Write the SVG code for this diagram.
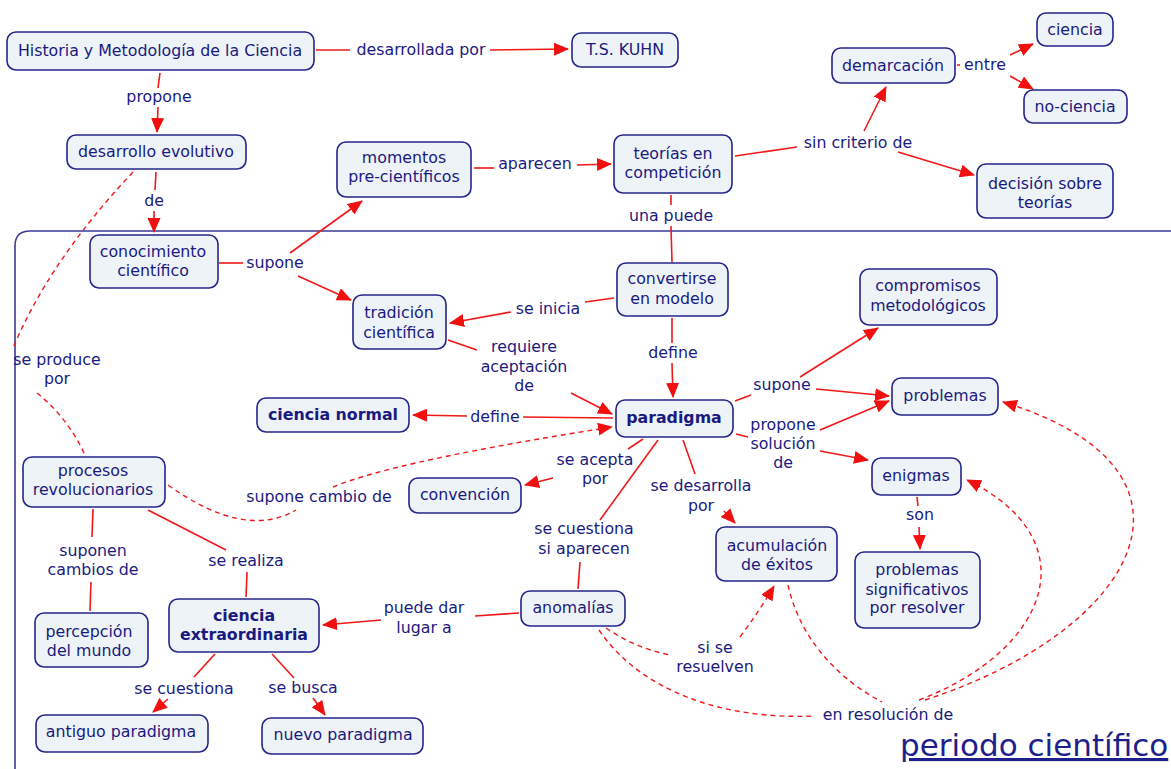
<svg xmlns="http://www.w3.org/2000/svg" width="1171" height="769" viewBox="0 0 1171 769">
<style>
text{font-family:"DejaVu Sans",Verdana,sans-serif;font-size:15.8px;fill:#1a1a80;text-anchor:middle}
.b{font-weight:bold}
.n rect{fill:#edf3f7;stroke:#25258a;stroke-width:1.6}
.c path{fill:none;stroke:#f01818;stroke-width:1.6}
.c path.d{stroke-dasharray:5,4;stroke-width:1.4}
.t{font-size:31px;text-anchor:start;text-decoration:underline;fill:#1f1f8c}
</style>
<defs>
<marker id="a" markerUnits="userSpaceOnUse" markerWidth="15" markerHeight="13" refX="14" refY="6.5" orient="auto"><path d="M0,0L15,6.5L0,13z" fill="#f01010"/></marker>
</defs>
<path d="M15,769V246Q15,231 30,231H1171" fill="none" stroke="#3a3a96" stroke-width="1.6"/>
<g class="c" id="connectors">
<path d="M316,50L350,50"/>
<path d="M490,50L568,49" marker-end="url(#a)"/>
<path d="M160,73L158,88"/>
<path d="M158,107L157,132" marker-end="url(#a)"/>
<path d="M156,172L155,190"/>
<path d="M154,211L154,232" marker-end="url(#a)"/>
<path d="M474,168L494,168"/>
<path d="M577,165L611,164" marker-end="url(#a)"/>
<path d="M735,156L797,147"/>
<path d="M864,131L886,87" marker-end="url(#a)"/>
<path d="M898,152L974,175" marker-end="url(#a)"/>
<path d="M957,65L960,65"/>
<path d="M1010,55L1033,44" marker-end="url(#a)"/>
<path d="M1010,76L1033,89" marker-end="url(#a)"/>
<path d="M671,195L671,205"/>
<path d="M671,226L672,262"/>
<path d="M219,263L243,263"/>
<path d="M290,253L362,201" marker-end="url(#a)"/>
<path d="M298,276L351,300" marker-end="url(#a)"/>
<path d="M614,298L585,302"/>
<path d="M511,312L450,323" marker-end="url(#a)"/>
<path d="M672,318L672,343"/>
<path d="M672,363L673,397" marker-end="url(#a)"/>
<path d="M448,340L477,350"/>
<path d="M571,393L612,414" marker-end="url(#a)"/>
<path d="M613,418L523,417"/>
<path d="M467,416L413,415" marker-end="url(#a)"/>
<path d="M735,401L751,395"/>
<path d="M800,377L878,328" marker-end="url(#a)"/>
<path d="M816,389L889,396" marker-end="url(#a)"/>
<path d="M736,434L748,437"/>
<path d="M820,430L889,401" marker-end="url(#a)"/>
<path d="M820,451L868,460" marker-end="url(#a)"/>
<path d="M643,439L628,449"/>
<path d="M553,478L525,485" marker-end="url(#a)"/>
<path d="M658,440L600,520"/>
<path d="M580,562L578,589"/>
<path d="M683,440L695,474"/>
<path d="M724,511L735,523" marker-end="url(#a)"/>
<path d="M917,497L918,506"/>
<path d="M919,527L920,549" marker-end="url(#a)"/>
<path d="M93,509L92,537"/>
<path d="M91,582L90,611"/>
<path d="M148,510L226,550"/>
<path d="M247,572L246,597"/>
<path d="M519,613L475,616"/>
<path d="M381,620L323,625" marker-end="url(#a)"/>
<path d="M215,654L194,677"/>
<path d="M168,699L153,712" marker-end="url(#a)"/>
<path d="M272,654L294,678"/>
<path d="M313,698L325,715" marker-end="url(#a)"/>
<path class="d" d="M133,172Q50,260 13,348"/>
<path class="d" d="M37,393Q68,418 85,455"/>
<path class="d" d="M168,485Q245,540 296,510"/>
<path class="d" d="M333,487Q395,461 612,427" marker-end="url(#a)"/>
<path class="d" d="M606,628Q635,648 670,655"/>
<path class="d" d="M740,637Q760,610 774,586" marker-end="url(#a)"/>
<path class="d" d="M599,630C640,690 720,720 815,716"/>
<path class="d" d="M788,585C800,640 840,680 882,702"/>
<path class="d" d="M919,700C1050,650 1090,540 967,480" marker-end="url(#a)"/>
<path class="d" d="M925,700C1140,630 1225,470 1003,402" marker-end="url(#a)"/>
</g>
<g id="labels">
<text x="421" y="55">desarrollada por</text>
<text x="159" y="102">propone</text>
<text x="154" y="206">de</text>
<text x="535" y="169">aparecen</text>
<text x="858" y="148">sin criterio de</text>
<text x="985" y="70">entre</text>
<text x="671" y="221">una puede</text>
<text x="275" y="268">supone</text>
<text x="548" y="314">se inicia</text>
<text x="524" y="352">requiere</text>
<text x="524" y="372">aceptación</text>
<text x="524" y="391">de</text>
<text x="673" y="358">define</text>
<text x="495" y="422">define</text>
<text x="782" y="390">supone</text>
<text x="783" y="430">propone</text>
<text x="783" y="449">solución</text>
<text x="783" y="468">de</text>
<text x="595" y="465">se acepta</text>
<text x="595" y="484">por</text>
<text x="701" y="491">se desarrolla</text>
<text x="701" y="511">por</text>
<text x="584" y="534">se cuestiona</text>
<text x="584" y="554">si aparecen</text>
<text x="920" y="520">son</text>
<text x="319" y="502">supone cambio de</text>
<text x="57" y="365">se produce</text>
<text x="57" y="384">por</text>
<text x="93" y="556">suponen</text>
<text x="93" y="575">cambios de</text>
<text x="246" y="566">se realiza</text>
<text x="424" y="613">puede dar</text>
<text x="424" y="633">lugar a</text>
<text x="715" y="653">si se</text>
<text x="715" y="672">resuelven</text>
<text x="888" y="720">en resolución de</text>
<text x="184" y="694">se cuestiona</text>
<text x="303" y="693">se busca</text>
<text class="t" x="900" y="756">periodo científico</text>
</g>
<g id="n1" class="n"><rect x="7" y="32" width="307" height="38" rx="9"/><text x="160" y="56">Historia y Metodología de la Ciencia</text></g>
<g id="n2" class="n"><rect x="572" y="33" width="106" height="34" rx="9"/><text x="625" y="55">T.S. KUHN</text></g>
<g id="n3" class="n"><rect x="67" y="135" width="179" height="34" rx="9"/><text x="156" y="157">desarrollo evolutivo</text></g>
<g id="n4" class="n"><rect x="337" y="142" width="134" height="55" rx="9"/><text x="404" y="163">momentos</text><text x="404" y="182">pre-científicos</text></g>
<g id="n5" class="n"><rect x="614" y="135" width="118" height="58" rx="9"/><text x="673" y="159">teorías en</text><text x="673" y="178">competición</text></g>
<g id="n6" class="n"><rect x="832" y="48" width="123" height="35" rx="9"/><text x="893" y="71">demarcación</text></g>
<g id="n7" class="n"><rect x="1037" y="13" width="76" height="33" rx="9"/><text x="1075" y="35">ciencia</text></g>
<g id="n8" class="n"><rect x="1024" y="90" width="103" height="33" rx="9"/><text x="1075" y="112">no-ciencia</text></g>
<g id="n9" class="n"><rect x="977" y="164" width="136" height="54" rx="9"/><text x="1045" y="189">decisión sobre</text><text x="1045" y="208">teorías</text></g>
<g id="n10" class="n"><rect x="90" y="235" width="128" height="53" rx="9"/><text x="153" y="257">conocimiento</text><text x="153" y="276">científico</text></g>
<g id="n11" class="n"><rect x="617" y="263" width="111" height="53" rx="9"/><text x="672" y="284">convertirse</text><text x="672" y="304">en modelo</text></g>
<g id="n12" class="n"><rect x="353" y="295" width="93" height="54" rx="9"/><text x="399" y="318">tradición</text><text x="399" y="338">científica</text></g>
<g id="n13" class="n"><rect x="860" y="269" width="137" height="56" rx="9"/><text x="928" y="291">compromisos</text><text x="928" y="311">metodológicos</text></g>
<g id="n14" class="n"><rect x="892" y="378" width="106" height="37" rx="9"/><text x="945" y="401">problemas</text></g>
<g id="n15" class="n"><rect x="257" y="398" width="152" height="34" rx="9"/><text class="b" x="333" y="420">ciencia normal</text></g>
<g id="n16" class="n"><rect x="616" y="400" width="117" height="37" rx="9"/><text class="b" x="674" y="423">paradigma</text></g>
<g id="n17" class="n"><rect x="23" y="457" width="142" height="50" rx="9"/><text x="93" y="476">procesos</text><text x="93" y="495">revolucionarios</text></g>
<g id="n18" class="n"><rect x="409" y="478" width="112" height="35" rx="9"/><text x="465" y="500">convención</text></g>
<g id="n19" class="n"><rect x="872" y="458" width="89" height="37" rx="9"/><text x="916" y="481">enigmas</text></g>
<g id="n20" class="n"><rect x="716" y="527" width="121" height="54" rx="9"/><text x="777" y="551">acumulación</text><text x="777" y="570">de éxitos</text></g>
<g id="n21" class="n"><rect x="855" y="552" width="125" height="76" rx="9"/><text x="917" y="575">problemas</text><text x="917" y="595">significativos</text><text x="917" y="613">por resolver</text></g>
<g id="n22" class="n"><rect x="521" y="591" width="104" height="35" rx="9"/><text x="573" y="613">anomalías</text></g>
<g id="n23" class="n"><rect x="169" y="599" width="150" height="53" rx="9"/><text class="b" x="244" y="621">ciencia</text><text class="b" x="244" y="640">extraordinaria</text></g>
<g id="n24" class="n"><rect x="35" y="613" width="113" height="54" rx="9"/><text x="89" y="637">percepción</text><text x="89" y="656">del mundo</text></g>
<g id="n25" class="n"><rect x="36" y="715" width="172" height="37" rx="9"/><text x="121" y="737">antiguo paradigma</text></g>
<g id="n26" class="n"><rect x="262" y="718" width="161" height="36" rx="9"/><text x="343" y="740">nuevo paradigma</text></g>
</svg>
